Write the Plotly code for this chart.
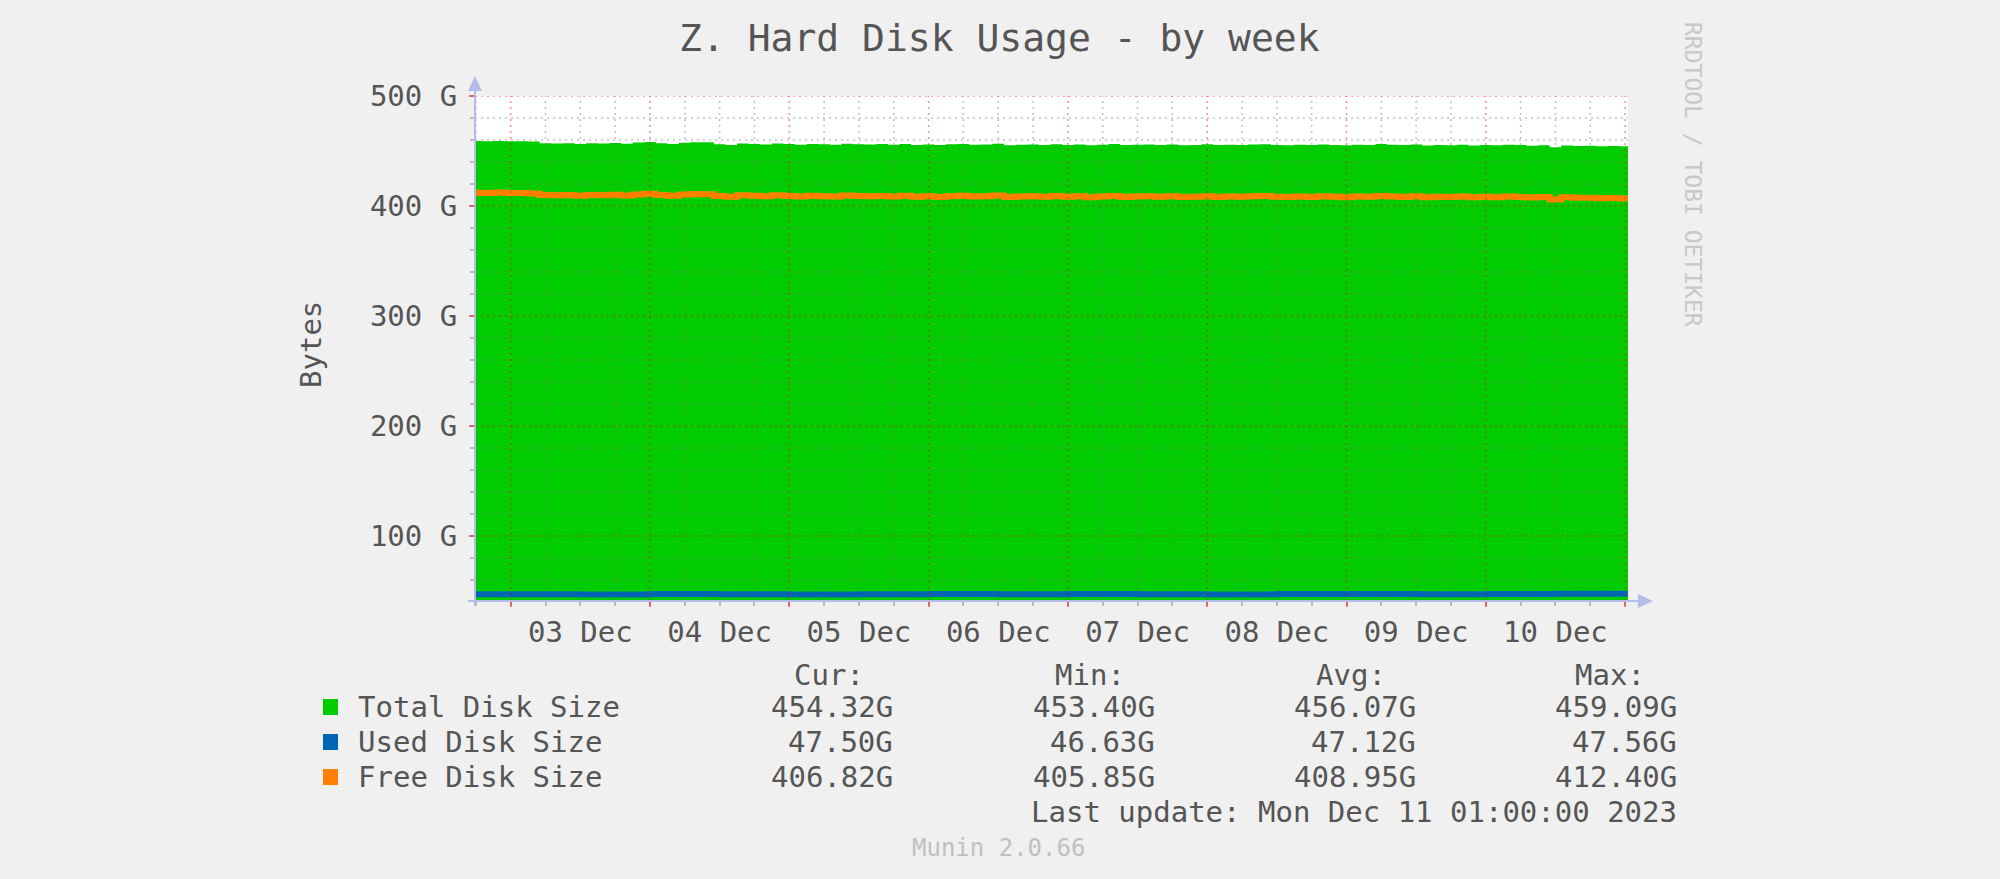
import pandas as pd
import plotly.graph_objects as go

# Munin "Z. Hard Disk Usage - by week", values in GB
# total / free: one value every 2 h starting 2023-12-02 17:00
total_start = "2023-12-02 17:00"
total_gb = [
    459.1, 459.0, 459.1, 458.9, 459.0, 458.6,
    457.2, 456.8, 457.0, 456.5, 457.1, 456.9,
    457.3, 456.6, 457.8, 458.2, 457.0, 456.4,
    457.6, 458.1, 457.9, 456.2, 455.6, 456.8,
    456.5, 456.0, 456.9, 456.3, 455.8, 456.4,
    456.1, 455.7, 456.6, 456.2, 455.9, 456.3,
    455.8, 456.4, 455.6, 456.0, 455.4, 456.1,
    456.5, 455.7, 455.9, 456.7, 455.3, 455.8,
    456.0, 455.5, 456.2, 455.6, 455.9, 455.2,
    455.8, 456.3, 455.4, 455.7, 456.0, 455.5,
    455.9, 455.3, 455.6, 456.1, 455.4, 455.8,
    455.5, 455.9, 456.2, 455.6, 455.3, 455.7,
    455.4, 456.0, 455.6, 455.2, 455.8, 455.5,
    456.3, 455.7, 455.4, 455.9, 455.1, 455.6,
    455.3, 455.8, 455.0, 455.5, 455.2, 455.7,
    455.4, 454.9, 455.3, 453.4, 455.0, 454.7,
    454.9, 454.4, 454.7, 454.3, 454.3,
]
free_gb = [
    412.0, 411.9, 412.4, 411.8, 411.9, 411.5,
    410.1, 409.7, 410.0, 409.4, 410.1, 409.8,
    410.2, 409.5, 410.6, 411.1, 410.0, 409.3,
    410.5, 411.0, 410.8, 409.1, 408.4, 409.7,
    409.4, 408.9, 409.8, 409.2, 408.6, 409.3,
    409.0, 408.6, 409.5, 409.1, 408.8, 409.2,
    408.7, 409.3, 408.5, 408.9, 408.3, 409.0,
    409.4, 408.6, 408.8, 409.6, 408.2, 408.7,
    408.9, 408.4, 409.1, 408.5, 408.8, 408.1,
    408.7, 409.2, 408.3, 408.6, 408.9, 408.4,
    408.8, 408.2, 408.5, 409.0, 408.3, 408.7,
    408.4, 408.8, 409.1, 408.5, 408.2, 408.6,
    408.3, 408.9, 408.5, 408.1, 408.7, 408.4,
    409.2, 408.6, 408.3, 408.8, 408.0, 408.5,
    408.2, 408.7, 407.9, 408.4, 408.1, 408.6,
    408.3, 407.8, 408.2, 405.9, 407.9, 407.5,
    407.6, 407.1, 407.3, 406.8, 406.8,
]
# used: one value every 12 h starting 2023-12-02 12:00
used_start = "2023-12-02 12:00"
used_gb = [47.0, 47.1, 46.9, 47.2, 47.0, 46.7, 47.1, 47.3, 47.0, 47.2,
           47.1, 46.9, 47.3, 47.2, 47.0, 47.3, 47.4, 47.5, 47.5]

series_names = ["Total Disk Size", "Used Disk Size", "Free Disk Size"]
series_colors = ["#00cc00", "#0066b3", "#ff8000"]

stat_headers = ["Cur:", "Min:", "Avg:", "Max:"]
stat_cur = ["454.32G", "47.50G", "406.82G"]
stat_min = ["453.40G", "46.63G", "405.85G"]
stat_avg = ["456.07G", "47.12G", "408.95G"]
stat_max = ["459.09G", "47.56G", "412.40G"]

day_labels = ["03 Dec", "04 Dec", "05 Dec", "06 Dec", "07 Dec", "08 Dec", "09 Dec", "10 Dec"]
ytick_vals = [100, 200, 300, 400, 500]
ytick_text = ["100 G", "200 G", "300 G", "400 G", "500 G"]

title = "Z. Hard Disk Usage - by week"
last_update = "Last update: Mon Dec 11 01:00:00 2023"

# ---- layout geometry (pixels) ----
W, H = 2000, 879
L, R, T, B = 475, 372, 96, 278
X0, X1 = pd.Timestamp("2023-12-02 17:51"), pd.Timestamp("2023-12-11 00:30")
Y0, Y1 = 40.9, 500.0
FONT = "DejaVu Sans Mono"
TXT = "#555555"
AXIS = "#b4bce8"
MINOR = "rgba(120,120,120,0.45)"
MAJOR = "rgba(255,0,0,0.45)"


def px(x):
    return (x - L) / (W - L - R)


def py(y):
    return (H - B - y) / (H - T - B)


def fmt(t):
    return t.strftime("%Y-%m-%d %H:%M")


total_t = [fmt(t) for t in pd.date_range(total_start, periods=len(total_gb), freq="2h")]
used_t = [fmt(t) for t in pd.date_range(used_start, periods=len(used_gb), freq="12h")]

fig = go.Figure()

fig.add_trace(go.Scatter(
    x=total_t, y=total_gb, name=series_names[0], mode="lines",
    line=dict(width=0, shape="hv"), fill="tozeroy", fillcolor=series_colors[0],
    hoverinfo="skip", showlegend=False,
))


# rrdtool draws its dotted grid over the area
def grid_trace(xs, ys, color, xaxis="x"):
    return go.Scatter(x=xs, y=ys, mode="lines", hoverinfo="skip", showlegend=False,
                      xaxis=xaxis, line=dict(color=color, width=1.5, dash="2px,4px"))


minor_t = [t for t in pd.date_range("2023-12-02 18:00", X1, freq="6h") if t.hour != 0]
major_t = list(pd.date_range("2023-12-03", X1, freq="1D"))
for times, color, ax in [(minor_t, MINOR, "x"), (major_t, MAJOR, "x2")]:
    xs, ys = [], []
    for t in times:
        xs += [fmt(t), fmt(t), None]
        ys += [Y0, Y1, None]
    fig.add_trace(grid_trace(xs, ys, color, ax))

minor_y = [v for v in range(60, 500, 20) if v % 100]
for vals, color in [(minor_y, MINOR), (ytick_vals, MAJOR)]:
    xs, ys = [], []
    for v in vals:
        xs += [fmt(X0), fmt(X1), None]
        ys += [v, v, None]
    fig.add_trace(grid_trace(xs, ys, color))

fig.add_trace(go.Scatter(
    x=used_t, y=used_gb, name=series_names[1], mode="lines",
    line=dict(color=series_colors[1], width=6, shape="hv"),
    hoverinfo="skip", showlegend=False,
))
fig.add_trace(go.Scatter(
    x=total_t, y=free_gb, name=series_names[2], mode="lines",
    line=dict(color=series_colors[2], width=6, shape="hv"),
    hoverinfo="skip", showlegend=False,
))

noon = [fmt(t + pd.Timedelta(hours=12)) for t in major_t[:len(day_labels)]]

fig.update_layout(
    width=W, height=H,
    margin=dict(l=L, r=R, t=T, b=B),
    paper_bgcolor="#f0f0f0",
    plot_bgcolor="#ffffff",
    font=dict(family=FONT, color=TXT, size=29),
    xaxis=dict(
        type="date", range=[fmt(X0), fmt(X1)], showgrid=False, zeroline=False,
        showticklabels=False, tickvals=[fmt(t) for t in major_t],
        ticks="outside", ticklen=5, tickcolor=MAJOR, tickwidth=1.5,
        minor=dict(dtick=6 * 3600 * 1000, tick0="2023-12-03", ticks="outside",
                   ticklen=4, tickcolor=MINOR, showgrid=False),
    ),
    xaxis2=dict(
        type="date", range=[fmt(X0), fmt(X1)], overlaying="x", anchor="y", side="bottom",
        showgrid=False, zeroline=False, tickvals=noon, ticktext=day_labels,
        ticks="", ticklabelstandoff=11, tickfont=dict(size=29, color=TXT),
    ),
    yaxis=dict(
        range=[Y0, Y1 + 0.05], showgrid=False, zeroline=False,
        tickvals=ytick_vals, ticktext=ytick_text,
        ticks="outside", ticklen=5, tickcolor=MAJOR, tickwidth=1.5,
        ticklabelstandoff=6, tickfont=dict(size=29, color=TXT),
        minor=dict(dtick=20, tick0=0, ticks="outside", ticklen=4,
                   tickcolor=MINOR, showgrid=False),
    ),
)

ann = [
    dict(x=px(999), y=py(38), text=title, font=dict(size=38)),
    dict(x=px(311), y=py(345), text="Bytes", textangle=-90),
    dict(x=px(1693), y=py(174), text="RRDTOOL / TOBI OETIKER", textangle=90,
         font=dict(size=23, color="#c8c8c8")),
    dict(x=px(998), y=py(848), text="Munin 2.0.66", font=dict(size=24, color="#c0c0c0")),
    dict(x=px(1679), y=py(812), text=last_update, xanchor="right"),
]

header_left = [792, 1053, 1314, 1573]
value_right = [895, 1157, 1418, 1679]
row_y = [707, 742, 777]
for h, xl in zip(stat_headers, header_left):
    ann.append(dict(x=px(xl), y=py(675), text=h, xanchor="left"))
for i, name in enumerate(series_names):
    ann.append(dict(x=px(356), y=py(row_y[i]), text=name, xanchor="left"))
    for col, xr in zip([stat_cur, stat_min, stat_avg, stat_max], value_right):
        ann.append(dict(x=px(xr), y=py(row_y[i]), text=col[i], xanchor="right"))

for a in ann:
    a.update(xref="paper", yref="paper", showarrow=False, yanchor="middle")
    a.setdefault("xanchor", "center")
fig.update_layout(annotations=ann)

# legend swatches, axis lines and arrowheads
shapes = []
for i, c in enumerate(series_colors):
    shapes.append(dict(type="rect", xref="paper", yref="paper",
                       x0=px(323), x1=px(338), y0=py(row_y[i] + 8), y1=py(row_y[i] - 8),
                       fillcolor=c, line=dict(width=0)))
shapes += [
    dict(type="line", xref="paper", yref="paper", x0=px(475), x1=px(475),
         y0=py(606), y1=py(86), line=dict(color=AXIS, width=2), layer="above"),
    dict(type="line", xref="paper", yref="paper", x0=px(468), x1=px(1642),
         y0=py(601), y1=py(601), line=dict(color=AXIS, width=2), layer="above"),
    dict(type="path", xref="paper", yref="paper",
         path=f"M {px(475)},{py(76)} L {px(468)},{py(91)} L {px(482)},{py(91)} Z",
         fillcolor=AXIS, line=dict(width=0)),
    dict(type="path", xref="paper", yref="paper",
         path=f"M {px(1653)},{py(601)} L {px(1638)},{py(594)} L {px(1638)},{py(608)} Z",
         fillcolor=AXIS, line=dict(width=0)),
]
fig.update_layout(shapes=shapes)

fig.write_html(
    "out.html",
    config={"displayModeBar": False},
    post_script="document.body.style.margin='0';document.body.style.background='#f0f0f0';",
)
